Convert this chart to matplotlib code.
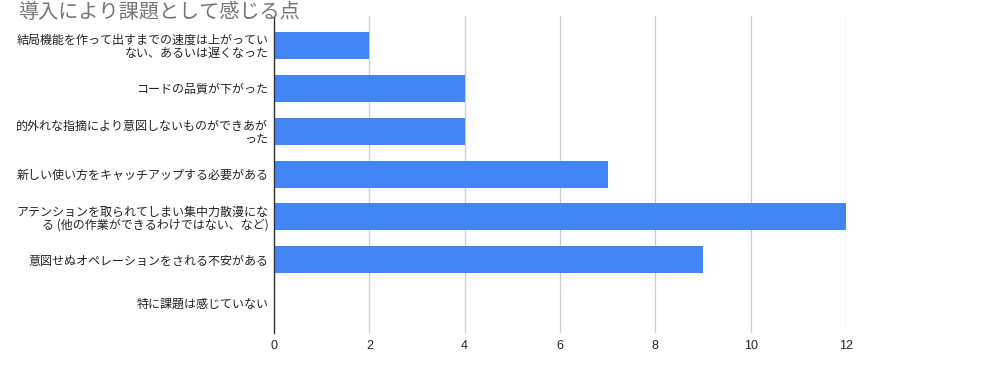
import matplotlib
matplotlib.use("Agg")
import matplotlib.pyplot as plt

plt.rcParams['font.family'] = ['Noto Sans CJK JP', 'DejaVu Sans']

title = "導入により課題として感じる点"
categories = [
    "結局機能を作って出すまでの速度は上がってい\nない、あるいは遅くなった",
    "コードの品質が下がった",
    "的外れな指摘により意図しないものができあが\nった",
    "新しい使い方をキャッチアップする必要がある",
    "アテンションを取られてしまい集中力散漫にな\nる (他の作業ができるわけではない、など)",
    "意図せぬオペレーションをされる不安がある",
    "特に課題は感じていない",
]
values = [2, 4, 4, 7, 12, 9, 0]
xticks = [0, 2, 4, 6, 8, 10, 12]

W, H = 981, 368
fig = plt.figure(figsize=(W / 100, H / 100), dpi=100)
ax = fig.add_axes([274 / W, 1 - 333 / H, (846 - 274) / W, (333 - 16) / H])

ypos = list(range(len(categories)))
ax.barh(ypos, values, height=0.63, color="#4285F4", zorder=3)

ax.set_xlim(0, 12)
ax.set_ylim(6.71, -0.69)
ax.set_yticks(ypos)
ax.set_yticklabels(categories, fontsize=8.65, color="#222222", linespacing=1.0)
for lbl in ax.get_yticklabels():
    lbl.set_horizontalalignment("right")
ax.set_xticks(xticks)
ax.set_xticklabels([str(t) for t in xticks], fontsize=9, color="#222222",
                   family=["Liberation Sans", "DejaVu Sans"])
ax.tick_params(axis="both", length=0)
ax.tick_params(axis="y", pad=4)
ax.tick_params(axis="x", pad=5)

ax.grid(axis="x", color="#cccccc", linewidth=0.9, zorder=0)
ax.grid(axis="y", visible=False)
for s in ["top", "right", "bottom"]:
    ax.spines[s].set_visible(False)
ax.spines["left"].set_color("#333333")
ax.spines["left"].set_linewidth(1.0)
ax.spines["left"].set_zorder(4)

fig.text(18 / W, 1 - 12 / H, title, fontsize=14.5, color="#757575",
         ha="left", va="center")

fig.savefig("out.png", dpi=100, facecolor="white")
